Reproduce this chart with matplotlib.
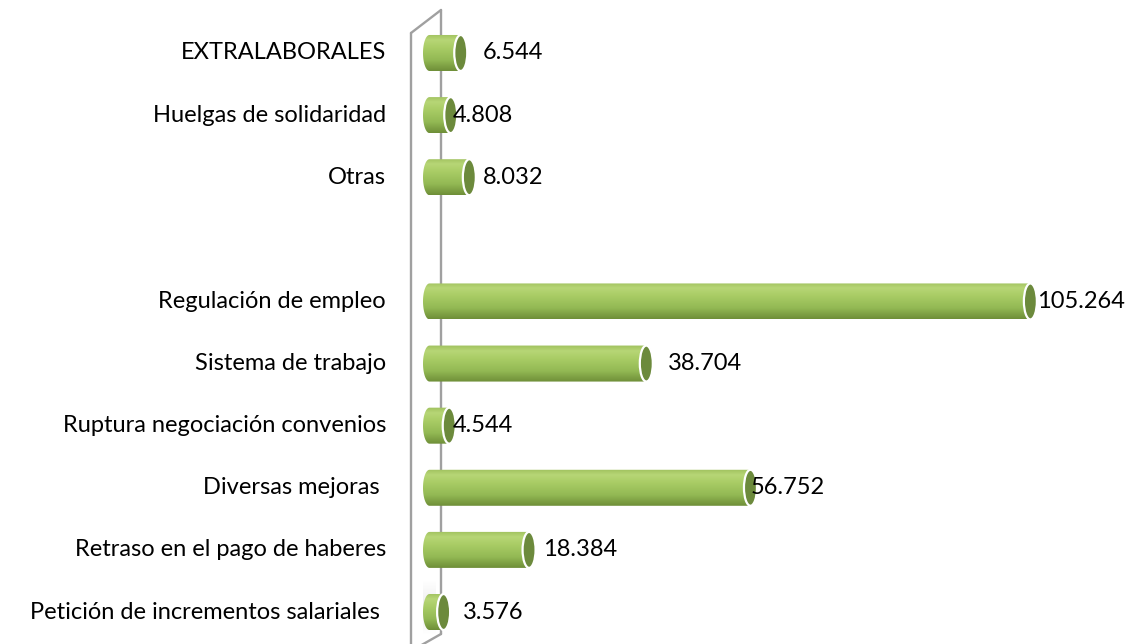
import numpy as np
import matplotlib
matplotlib.use("Agg")
import matplotlib.pyplot as plt
from matplotlib.patches import Ellipse, Polygon
from matplotlib.colors import LinearSegmentedColormap
from matplotlib.lines import Line2D

# ---- data (bottom to top) ----
categories = ["Petición de incrementos salariales ",
              "Retraso en el pago de haberes",
              "Diversas mejoras ",
              "Ruptura negociación convenios",
              "Sistema de trabajo",
              "Regulación de empleo",
              "",
              "Otras",
              "Huelgas de solidaridad",
              "EXTRALABORALES"]
values = [3.576, 18.384, 56.752, 4.544, 38.704, 105.264, None, 8.032, 4.808, 6.544]
value_labels = ["3.576", "18.384", "56.752", "4.544", "38.704", "105.264", "",
                "8.032", "4.808", "6.544"]
# label offsets from bar end (pixels), as in the original 3D layout
label_dx = [19, 14, 0, 4, 22, 7, 0, 14, 2, 22]

plt.rcParams['font.family'] = ['Lato', 'DejaVu Sans']
FS = 17

W, H = 1134, 644
fig = plt.figure(figsize=(W / 100, H / 100), dpi=100)
fig.patch.set_facecolor('white')

px_per_unit = 5.77
x0_pix = 423
ax = fig.add_axes([x0_pix / W, 0, 1 - x0_pix / W, 1])
ax.set_zorder(2)
xmax = (W - x0_pix) / px_per_unit
ylo, yhi = -0.515, 9.853
ax.set_xlim(0, xmax)
ax.set_ylim(ylo, yhi)
ax.axis('off')

def px_to_data(xp, yp):
    x = (xp - x0_pix) / px_per_unit
    y = ylo + (H - yp) / H * (yhi - ylo)
    return x, y

# wall lines (figure coordinates, drawn beneath the axes contents)
wall_col = '#a0a0a0'
lw = 1.7
def fline(p, q):
    fig.add_artist(Line2D([p[0] / W, q[0] / W], [1 - p[1] / H, 1 - q[1] / H],
                          transform=fig.transFigure, color=wall_col, lw=lw,
                          zorder=1, solid_capstyle='round'))
fline((411, 33), (411, 650))
fline((441, 10), (441, 634))
fline((411, 33), (441, 10))
fline((411, 651), (441, 634))

# soft shadow near lowest bar
sh = np.linspace(0, 1, 50)
shadow_cmap = LinearSegmentedColormap.from_list('sh', ['#ffffff', '#d9d9d9', '#ffffff'])
sx0, sy0 = px_to_data(416, 635)
sx1, sy1 = px_to_data(436, 580)
ax.imshow(np.tile(sh, (10, 1)).T, extent=(sx0, sx1, sy0, sy1), aspect='auto',
          cmap=shadow_cmap, alpha=0.5, zorder=0.5, interpolation='bilinear')

body_cmap = LinearSegmentedColormap.from_list(
    'cyl', [(0.0, '#6f8f38'), (0.3, '#93b954'), (0.65, '#aacd66'), (0.85, '#b7d676'), (1.0, '#a0c15e')])

bar_h = 36 / 62.1
a = 6.5 / px_per_unit  # half-width of end ellipse in data units
grad = np.linspace(0, 1, 64).reshape(-1, 1)

for i, v in enumerate(values):
    if v is None:
        continue
    yc = i
    top, bot = yc + bar_h / 2, yc - bar_h / 2
    t = np.linspace(np.pi / 2, 3 * np.pi / 2, 40)
    lx = a + a * np.cos(t)
    ly = yc + (bar_h / 2) * np.sin(t)
    xs = np.concatenate([lx, [v, v]])
    ys = np.concatenate([ly, [bot, top]])
    poly = Polygon(np.column_stack([xs, ys]), closed=True, facecolor='none',
                   edgecolor='none', transform=ax.transData)
    ax.add_patch(poly)
    im = ax.imshow(grad, extent=(0, v, bot, top), origin='lower', aspect='auto',
                   cmap=body_cmap, zorder=2, interpolation='bilinear')
    im.set_clip_path(poly)
    cap = Ellipse((v, yc), 2 * a, bar_h, facecolor='#6c8a3c', edgecolor='white',
                  lw=1.6, zorder=3)
    ax.add_patch(cap)
    ax.annotate(value_labels[i], xy=(v, yc), xytext=(label_dx[i], 0),
                textcoords='offset pixels', ha='left', va='center',
                fontsize=FS, color='#000000', zorder=4, annotation_clip=False)

xd, _ = px_to_data(386, 0)
for i, c in enumerate(categories):
    if not c:
        continue
    ax.text(xd, i, c, ha='right', va='center', fontsize=FS, color='#000000',
            clip_on=False)

fig.savefig('out.png', dpi=100, facecolor='white')
